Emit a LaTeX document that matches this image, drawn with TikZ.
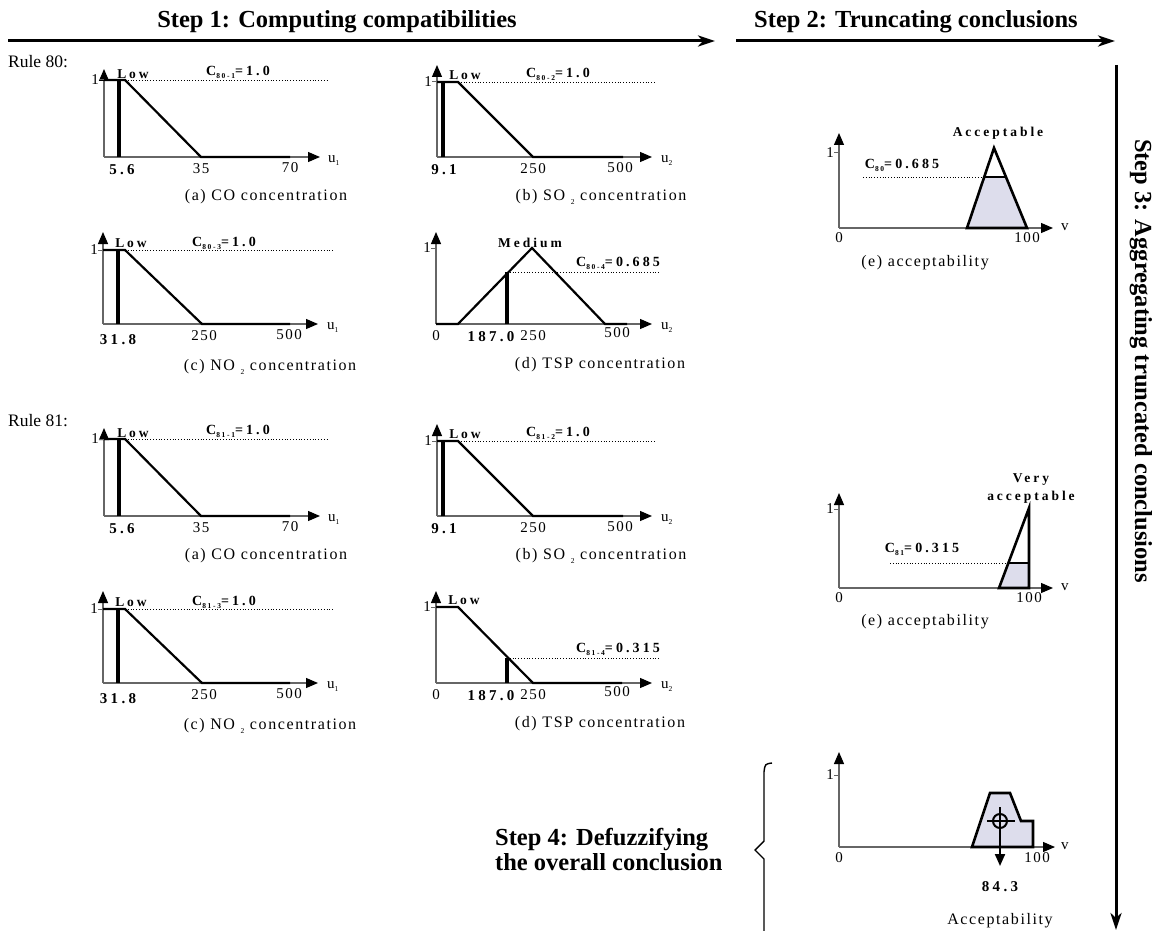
\documentclass[tikz,border=0pt]{standalone}
\usepackage{fontspec}
\setmainfont{Liberation Serif}
\newfontfamily\trackfont[LetterSpace=10]{Liberation Serif}
\newfontfamily\widefont[LetterSpace=22]{Liberation Serif}
\usepackage{tikz}
\usetikzlibrary{arrows.meta}
\definecolor{areafill}{RGB}{221,221,236}
\newcommand{\lowsub}[1]{\raisebox{-0.45ex}{\fontsize{7.5}{8}\selectfont #1}}

\begin{document}
\begin{tikzpicture}[
    x=1pt, y=-1pt,
    steptitle/.style = {font=\fontsize{24.5}{25}\selectfont\bfseries, inner sep=0pt},
    rulelbl/.style   = {font=\fontsize{17.5}{18}\selectfont, anchor=west, inner sep=0pt},
    numlbl/.style    = {font=\trackfont\fontsize{15}{15}\selectfont, inner sep=0pt},
    bnum/.style      = {font=\widefont\bfseries\fontsize{15}{15}\selectfont, inner sep=0pt},
    clbl/.style      = {font=\widefont\bfseries\fontsize{14}{14}\selectfont, inner sep=0pt},
    mlbl/.style      = {font=\widefont\bfseries\fontsize{13.5}{18}\selectfont, inner sep=0pt, align=center},
    capt/.style      = {font=\trackfont\fontsize{16}{17}\selectfont, inner sep=0pt},
    axlbl/.style     = {font=\fontsize{15}{15}\selectfont, inner sep=0pt, anchor=west},
    axarrow/.style   = {draw=black!60, line width=1.2pt, -{Triangle[length=12pt,width=10pt,black]}},
    tk/.style        = {draw=black!60, line width=1pt},
    mf/.style        = {line width=2.2pt},
    cutbar/.style    = {line width=3.2pt},
    clipline/.style  = {dotted, line width=0.8pt},
    outline/.style   = {draw=black, line width=2.6pt, line join=miter},
    flow/.style      = {line width=3pt, -{Stealth[length=17pt,width=11pt,inset=5pt]}},
]
\useasboundingbox (0,0) rectangle (1159,931);

%============================ STEP ARROWS ============================
\coordinate (s1a) at (8,41);
\coordinate (s1b) at (715,41);
\draw[flow] (s1a) -- (s1b);
\node[steptitle] (s1) at (337,22) {Step 1: Computing compatibilities};

\coordinate (s2a) at (736,41);
\coordinate (s2b) at (1115,41);
\draw[flow] (s2a) -- (s2b);
\node[steptitle] (s2) at (916,22) {Step 2: Truncating conclusions};

\coordinate (s3a) at (1116,65);
\coordinate (s3b) at (1116,930);
\draw[flow] (s3a) -- (s3b);
\node[steptitle, rotate=-90] (s3) at (1141,361) {Step 3: Aggregating truncated conclusions};

\node[rulelbl] (r80) at (8,62) {Rule 80:};
\node[rulelbl] (r81) at (8,421) {Rule 81:};

%============================ RULE 80 ===============================
% --- (a) CO
\begin{scope}[shift={(104,157)}, yscale=-1]
  \draw[axarrow] (0,0) -- (0,88);
  \draw[axarrow] (0,0) -- (216,0);
  \draw[tk] (-5,77) -- (0,77);
  \node[numlbl, anchor=east] (aone) at (-5,77) {1};
  \draw[clipline] (21,77) -- (223,77);
  \draw[mf] (0,77) -- (21,77) -- (97,0) -- (186,0);
  \draw[cutbar] (15,0) -- (15,77);
  \node[mlbl] (alow) at (29,83) {Low};
  \node[clbl] (ac) at (134,85) {C\lowsub{80-1}=1.0};
  \node[bnum] (ain) at (18,-13) {5.6};
  \node[numlbl] (at1) at (97,-12) {35};
  \node[numlbl] (at2) at (186,-11) {70};
  \node[axlbl] (au) at (224,-4) {u\lowsub{1}};
  \node[capt] (acap) at (162,-40) {(a) CO concentration};
\end{scope}

% --- (b) SO2
\begin{scope}[shift={(437,157)}, yscale=-1]
  \draw[axarrow] (0,0) -- (0,92);
  \draw[axarrow] (0,0) -- (215,0);
  \draw[tk] (-5,75) -- (0,75);
  \node[numlbl, anchor=east] (bone) at (-5,75) {1};
  \draw[clipline] (21,75) -- (218,75);
  \draw[mf] (0,75) -- (21,75) -- (96,0) -- (186,0);
  \draw[cutbar] (6,0) -- (6,75);
  \node[mlbl] (blow) at (28,82) {Low};
  \node[clbl] (bc) at (121,83) {C\lowsub{80-2}=1.0};
  \node[bnum] (bin) at (7,-13) {9.1};
  \node[numlbl] (bt1) at (96,-12) {250};
  \node[numlbl] (bt2) at (183,-11) {500};
  \node[axlbl] (bu) at (224,-4) {u\lowsub{2}};
  \node[capt] (bcap) at (164,-40) {(b) SO \lowsub{2} concentration};
\end{scope}

% --- (c) NO2
\begin{scope}[shift={(103,324)}, yscale=-1]
  \draw[axarrow] (0,0) -- (0,92);
  \draw[axarrow] (0,0) -- (215,0);
  \draw[tk] (-5,74) -- (0,74);
  \node[numlbl, anchor=east] (cone) at (-5,74) {1};
  \draw[clipline] (22,74) -- (230,74);
  \draw[mf] (0,74) -- (22,74) -- (99,0) -- (187,0);
  \draw[cutbar] (15,0) -- (15,74);
  \node[mlbl] (clow) at (28,81) {Low};
  \node[clbl] (cc) at (121,81) {C\lowsub{80-3}=1.0};
  \node[bnum] (cin) at (15,-16) {31.8};
  \node[numlbl] (ct1) at (101,-12) {250};
  \node[numlbl] (ct2) at (186,-11) {500};
  \node[axlbl] (cu) at (224,-4) {u\lowsub{1}};
  \node[capt] (ccap) at (167,-43) {(c) NO \lowsub{2} concentration};
\end{scope}

% --- (d) TSP
\begin{scope}[shift={(436,324)}, yscale=-1]
  \draw[axarrow] (0,0) -- (0,92);
  \draw[axarrow] (0,0) -- (216,0);
  \draw[tk] (-5,76) -- (0,76);
  \node[numlbl, anchor=east] (done) at (-5,76) {1};
  \draw[clipline] (71,52) -- (224,52);
  \draw[mf] (0,0) -- (22,0) -- (96,76) -- (169,0) -- (191,0);
  \draw[cutbar] (71,0) -- (71,52);
  \node[mlbl] (dlow) at (94,81) {Medium};
  \node[clbl] (dc) at (182,61) {C\lowsub{80-4}=0.685};
  \node[numlbl] (dt0) at (0,-12) {0};
  \node[bnum] (din) at (55,-13) {187.0};
  \node[numlbl] (dt1) at (97,-12) {250};
  \node[numlbl] (dt2) at (181,-9) {500};
  \node[axlbl] (du) at (225,-4) {u\lowsub{2}};
  \node[capt] (dcap) at (164,-41) {(d) TSP concentration};
\end{scope}

%============================ RULE 81 ===============================
% --- (a) CO
\begin{scope}[shift={(104,516)}, yscale=-1]
  \draw[axarrow] (0,0) -- (0,88);
  \draw[axarrow] (0,0) -- (216,0);
  \draw[tk] (-5,77) -- (0,77);
  \node[numlbl, anchor=east] (eone) at (-5,77) {1};
  \draw[clipline] (21,77) -- (223,77);
  \draw[mf] (0,77) -- (21,77) -- (97,0) -- (186,0);
  \draw[cutbar] (15,0) -- (15,77);
  \node[mlbl] (elow) at (29,83) {Low};
  \node[clbl] (ec) at (134,85) {C\lowsub{81-1}=1.0};
  \node[bnum] (ein) at (18,-13) {5.6};
  \node[numlbl] (et1) at (97,-12) {35};
  \node[numlbl] (et2) at (186,-11) {70};
  \node[axlbl] (eu) at (224,-4) {u\lowsub{1}};
  \node[capt] (ecap) at (162,-40) {(a) CO concentration};
\end{scope}

% --- (b) SO2
\begin{scope}[shift={(437,516)}, yscale=-1]
  \draw[axarrow] (0,0) -- (0,92);
  \draw[axarrow] (0,0) -- (215,0);
  \draw[tk] (-5,75) -- (0,75);
  \node[numlbl, anchor=east] (fone) at (-5,75) {1};
  \draw[clipline] (21,75) -- (218,75);
  \draw[mf] (0,75) -- (21,75) -- (96,0) -- (186,0);
  \draw[cutbar] (6,0) -- (6,75);
  \node[mlbl] (flow) at (28,82) {Low};
  \node[clbl] (fc) at (121,83) {C\lowsub{81-2}=1.0};
  \node[bnum] (fin) at (7,-13) {9.1};
  \node[numlbl] (ft1) at (96,-12) {250};
  \node[numlbl] (ft2) at (183,-11) {500};
  \node[axlbl] (fu) at (224,-4) {u\lowsub{2}};
  \node[capt] (fcap) at (164,-40) {(b) SO \lowsub{2} concentration};
\end{scope}

% --- (c) NO2
\begin{scope}[shift={(103,683)}, yscale=-1]
  \draw[axarrow] (0,0) -- (0,92);
  \draw[axarrow] (0,0) -- (215,0);
  \draw[tk] (-5,74) -- (0,74);
  \node[numlbl, anchor=east] (gone) at (-5,74) {1};
  \draw[clipline] (22,74) -- (230,74);
  \draw[mf] (0,74) -- (22,74) -- (99,0) -- (187,0);
  \draw[cutbar] (15,0) -- (15,74);
  \node[mlbl] (glow) at (28,81) {Low};
  \node[clbl] (gc) at (121,81) {C\lowsub{81-3}=1.0};
  \node[bnum] (gin) at (15,-16) {31.8};
  \node[numlbl] (gt1) at (101,-12) {250};
  \node[numlbl] (gt2) at (186,-11) {500};
  \node[axlbl] (gu) at (224,-4) {u\lowsub{1}};
  \node[capt] (gcap) at (167,-43) {(c) NO \lowsub{2} concentration};
\end{scope}

% --- (d) TSP
\begin{scope}[shift={(436,683)}, yscale=-1]
  \draw[axarrow] (0,0) -- (0,92);
  \draw[axarrow] (0,0) -- (216,0);
  \draw[tk] (-5,76) -- (0,76);
  \node[numlbl, anchor=east] (hone) at (-5,76) {1};
  \draw[clipline] (71,25) -- (224,25);
  \draw[mf] (0,76) -- (22,76) -- (97,0) -- (186,0);
  \draw[cutbar] (71,0) -- (71,25);
  \node[mlbl] (hlow) at (28,83) {Low};
  \node[clbl] (hc) at (182,34) {C\lowsub{81-4}=0.315};
  \node[numlbl] (ht0) at (0,-12) {0};
  \node[bnum] (hin) at (55,-13) {187.0};
  \node[numlbl] (ht1) at (97,-12) {250};
  \node[numlbl] (ht2) at (181,-9) {500};
  \node[axlbl] (hu) at (225,-4) {u\lowsub{2}};
  \node[capt] (hcap) at (164,-41) {(d) TSP concentration};
\end{scope}

%========================= TRUNCATED CONCLUSIONS =====================
% --- rule 80
\begin{scope}[shift={(839,228)}, yscale=-1]
  \draw[axarrow] (0,0) -- (0,95);
  \draw[axarrow] (0,0) -- (214,0);
  \draw[tk] (-5,75) -- (0,75);
  \node[numlbl, anchor=east] (ione) at (-5,75) {1};
  \fill[areafill] (128,0) -- (145.2,51) -- (167.6,51) -- (188,0) -- cycle;
  \draw[outline] (128,0) -- (155,80) -- (188,0) -- cycle;
  \draw[outline] (145.2,51) -- (167.6,51);
  \draw[clipline] (24,51) -- (145.2,51);
  \node[mlbl] (iname) at (159,95) {Acceptable};
  \node[clbl] (ic) at (63,63) {C\lowsub{80}=0.685};
  \node[numlbl] (it0) at (0,-10) {0};
  \node[numlbl] (it1) at (188,-10) {100};
  \node[axlbl] (iv) at (222,1) {v};
  \node[capt] (icap) at (86,-35) {(e) acceptability};
\end{scope}

% --- rule 81
\begin{scope}[shift={(839,588)}, yscale=-1]
  \draw[axarrow] (0,0) -- (0,95);
  \draw[axarrow] (0,0) -- (214,0);
  \draw[tk] (-5,79) -- (0,79);
  \node[numlbl, anchor=east] (jone) at (-5,79) {1};
  \fill[areafill] (160,0) -- (169.4,25) -- (190,25) -- (190,0) -- cycle;
  \draw[outline] (160,0) -- (190,80) -- (190,0) -- cycle;
  \draw[outline] (169.4,25) -- (190,25);
  \draw[clipline] (51,25) -- (169.4,25);
  \node[mlbl] (jname) at (192,99) {Very\\acceptable};
  \node[clbl] (jc) at (83,39) {C\lowsub{81}=0.315};
  \node[numlbl] (jt0) at (0,-10) {0};
  \node[numlbl] (jt1) at (190,-10) {100};
  \node[axlbl] (jv) at (222,1) {v};
  \node[capt] (jcap) at (86,-34) {(e) acceptability};
\end{scope}

%============================ DEFUZZIFYING ===========================
\draw[line width=1.4pt] (772,763) .. controls (765,764) .. (764,772) -- (764,841)
      -- (755,850) -- (764,859) -- (764,931);
\node[steptitle, align=left, anchor=west] (s4) at (495,850)
      {Step 4: Defuzzifying\\the overall conclusion};

\begin{scope}[shift={(839,847)}, yscale=-1]
  \draw[axarrow] (0,0) -- (0,95);
  \draw[axarrow] (0,0) -- (216,0);
  \draw[tk] (-5,72) -- (0,72);
  \node[numlbl, anchor=east] (kone) at (-5,72) {1};
  \draw[outline, fill=areafill] (133,0) -- (151,54) -- (171,54) -- (182,26)
        -- (194,26) -- (194,0) -- cycle;
  \draw[line width=2pt] (161,26) circle (7);
  \draw[line width=1.6pt] (148,26) -- (176,26);
  \draw[line width=2pt, -{Triangle[length=12pt,width=10pt]}] (161,40) -- (161,-19);
  \node[bnum] (kout) at (161,-40) {84.3};
  \node[numlbl] (kt0) at (0,-11) {0};
  \node[numlbl] (kt1) at (198,-11) {100};
  \node[axlbl] (kv) at (222,1) {v};
  \node[capt] (kcap) at (161,-74) {Acceptability};
\end{scope}

\end{tikzpicture}
\end{document}
